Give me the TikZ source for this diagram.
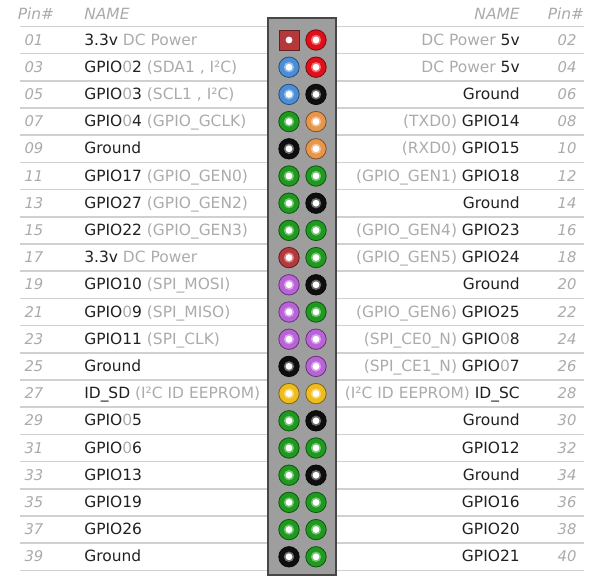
\documentclass[tikz,border=0pt]{standalone}
\usepackage{fontspec}
\setmainfont{DejaVu Sans}
\definecolor{txtdark}{HTML}{202020}
\definecolor{txtpale}{HTML}{ABABAB}
\definecolor{numgray}{HTML}{AAAAAA}
\definecolor{rulegray}{HTML}{D0D0D0}
\definecolor{boxgray}{HTML}{9E9E9E}
\definecolor{boxedge}{HTML}{474747}
\definecolor{pinred}{HTML}{E0101A}
\definecolor{pinmaroon}{HTML}{B5383B}
\definecolor{pinblue}{HTML}{4B8ED8}
\definecolor{pingreen}{HTML}{1E9A1E}
\definecolor{pinblack}{HTML}{0E0E0E}
\definecolor{pinorange}{HTML}{E8964C}
\definecolor{pinpurple}{HTML}{BA62D8}
\definecolor{pinyellow}{HTML}{F0BC1C}
\newcommand{\pale}[1]{\textcolor{txtpale}{#1}}
\tikzset{
    pin/.style = {circle, fill=#1, draw=#1!55!black, line width=0.6pt, minimum size=0.51cm, inner sep=0pt,
        path picture={\fill[#1!60!white] (path picture bounding box.center) circle (0.13cm);
                      \fill[white] (path picture bounding box.center) circle (0.085cm);}},
    pinsq/.style = {rectangle, fill=#1, draw=#1!55!black, line width=0.6pt, minimum size=0.5cm, inner sep=0pt,
        path picture={\fill[white] (path picture bounding box.center) circle (0.085cm);}},
    lname/.style = {anchor=base west, inner sep=0pt, text=txtdark, font=\fontsize{11}{13}\selectfont},
    rname/.style = {anchor=base east, inner sep=0pt, text=txtdark, font=\fontsize{11}{13}\selectfont},
    pinnum/.style = {anchor=base, inner sep=0pt, text=numgray, font=\fontsize{10.5}{12}\selectfont\itshape},
    headtxt/.style = {inner sep=0pt, text=numgray, font=\fontsize{11}{12}\selectfont\itshape},
    rowline/.style = {rulegray, line width=1.1pt},
    header/.style = {fill=boxgray, draw=boxedge, line width=1.2pt}
}

\begin{document}
\begin{tikzpicture}[x=0.025cm, y=-0.025cm]
  \useasboundingbox (0,0) rectangle (600,579);
  % rules between the rows
  \foreach \k in {0,...,20} {
    \draw[rowline] (20,{26.4+27.2*\k}) -- (268,{26.4+27.2*\k});
    \draw[rowline] (336,{26.4+27.2*\k}) -- (584,{26.4+27.2*\k});
  }
  % headings
  \node[headtxt, anchor=base] (pinhL) at (36,19) {Pin\#};
  \node[headtxt, anchor=base west] (namehL) at (84,19) {NAME};
  \node[headtxt, anchor=base east] (namehR) at (520,19) {NAME};
  \node[headtxt, anchor=base] (pinhR) at (566,19) {Pin\#};
  % the header block
  \draw[header] (268,18) rectangle (336,575);
  % odd side
  \foreach \k/\n/\txt in {1/01/{3.3v \pale{DC Power}}, 2/03/{GPIO\pale{0}2 \pale{(SDA1 , I²C)}},
      3/05/{GPIO\pale{0}3 \pale{(SCL1 , I²C)}}, 4/07/{GPIO\pale{0}4 \pale{(GPIO\_GCLK)}},
      5/09/{Ground}, 6/11/{GPIO17 \pale{(GPIO\_GEN0)}}, 7/13/{GPIO27 \pale{(GPIO\_GEN2)}},
      8/15/{GPIO22 \pale{(GPIO\_GEN3)}}, 9/17/{3.3v \pale{DC Power}}, 10/19/{GPIO10 \pale{(SPI\_MOSI)}},
      11/21/{GPIO\pale{0}9 \pale{(SPI\_MISO)}}, 12/23/{GPIO11 \pale{(SPI\_CLK)}}, 13/25/{Ground},
      14/27/{ID\_SD \pale{(I²C ID EEPROM)}}, 15/29/{GPIO\pale{0}5}, 16/31/{GPIO\pale{0}6},
      17/33/{GPIO13}, 18/35/{GPIO19}, 19/37/{GPIO26}, 20/39/{Ground}} {
    \pgfmathsetmacro\y{40+27.2*(\k-1)}
    \node[pinnum] (numL\k) at (34,{\y+5}) {\n};
    \node[lname] (nameL\k) at (84,{\y+5}) {\txt};
  }
  % even side
  \foreach \k/\n/\txt in {1/02/{\pale{DC Power} 5v}, 2/04/{\pale{DC Power} 5v}, 3/06/{Ground},
      4/08/{\pale{(TXD0)} GPIO14}, 5/10/{\pale{(RXD0)} GPIO15}, 6/12/{\pale{(GPIO\_GEN1)} GPIO18},
      7/14/{Ground}, 8/16/{\pale{(GPIO\_GEN4)} GPIO23}, 9/18/{\pale{(GPIO\_GEN5)} GPIO24},
      10/20/{Ground}, 11/22/{\pale{(GPIO\_GEN6)} GPIO25}, 12/24/{\pale{(SPI\_CE0\_N)} GPIO\pale{0}8},
      13/26/{\pale{(SPI\_CE1\_N)} GPIO\pale{0}7}, 14/28/{\pale{(I²C ID EEPROM)} ID\_SC},
      15/30/{Ground}, 16/32/{GPIO12}, 17/34/{Ground}, 18/36/{GPIO16}, 19/38/{GPIO20}, 20/40/{GPIO21}} {
    \pgfmathsetmacro\y{40+27.2*(\k-1)}
    \node[rname] (nameR\k) at (520,{\y+5}) {\txt};
    \node[pinnum] (numR\k) at (567,{\y+5}) {\n};
  }
  % pins
  \node[pinsq=pinmaroon] (pinL1) at (289,40) {};
  \node[pin=pinred] (pinR1) at (316,40) {};
  \foreach \k/\cl/\cr in {2/pinblue/pinred, 3/pinblue/pinblack, 4/pingreen/pinorange,
      5/pinblack/pinorange, 6/pingreen/pingreen, 7/pingreen/pinblack, 8/pingreen/pingreen,
      9/pinmaroon/pingreen, 10/pinpurple/pinblack, 11/pinpurple/pingreen, 12/pinpurple/pinpurple,
      13/pinblack/pinpurple, 14/pinyellow/pinyellow, 15/pingreen/pinblack, 16/pingreen/pingreen,
      17/pingreen/pinblack, 18/pingreen/pingreen, 19/pingreen/pingreen, 20/pinblack/pingreen} {
    \pgfmathsetmacro\y{40+27.2*(\k-1)}
    \node[pin=\cl] (pinL\k) at (289,\y) {};
    \node[pin=\cr] (pinR\k) at (316,\y) {};
  }
\end{tikzpicture}
\end{document}
